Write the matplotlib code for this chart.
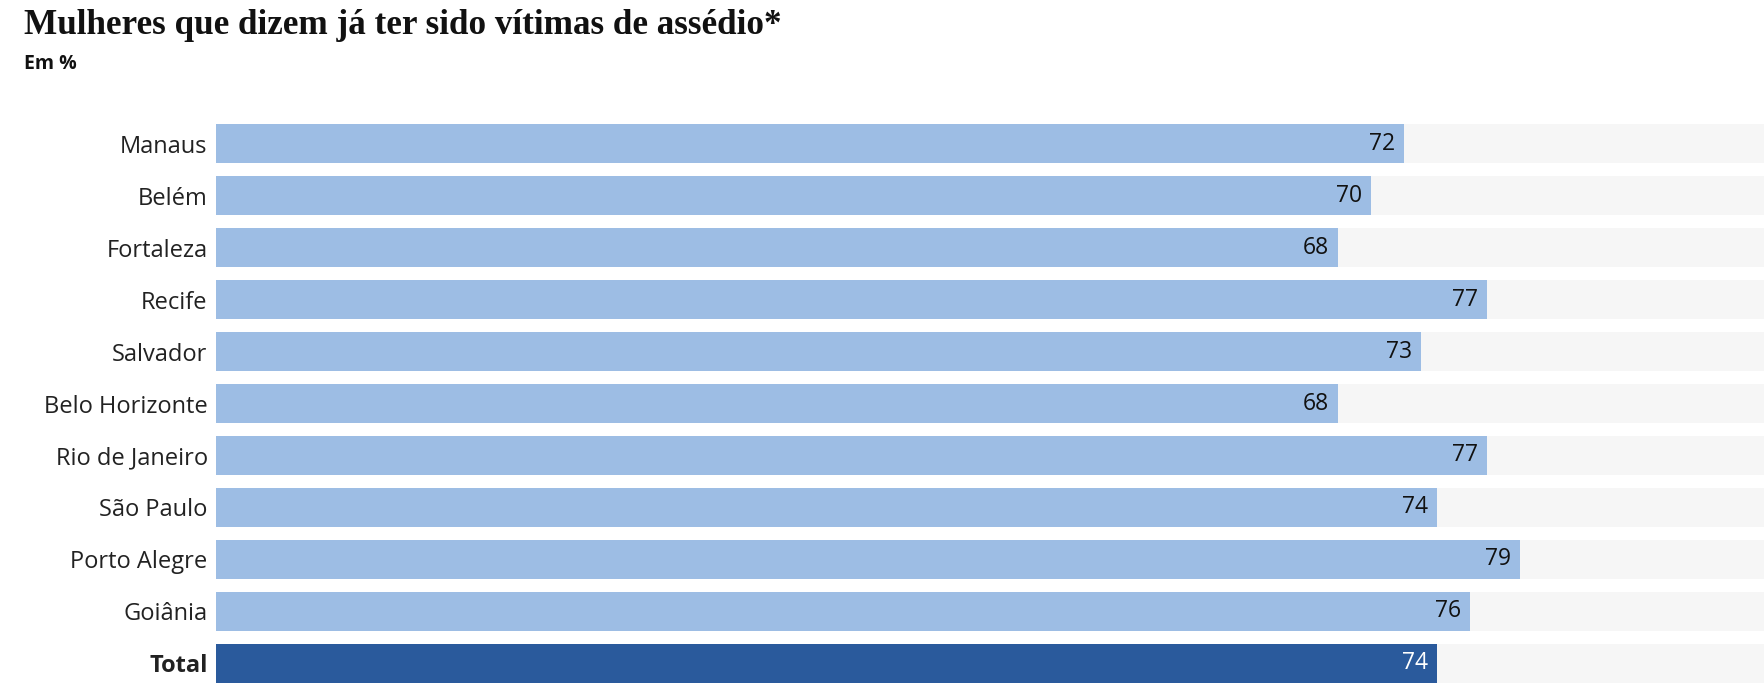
import matplotlib.pyplot as plt

cities = ["Manaus", "Belém", "Fortaleza", "Recife", "Salvador", "Belo Horizonte",
          "Rio de Janeiro", "São Paulo", "Porto Alegre", "Goiânia", "Total"]
values = [72, 70, 68, 77, 73, 68, 77, 74, 79, 76, 74]

LIGHT = "#9dbde4"
DARK = "#2a5a9c"
GREY = "#f6f6f6"


def main():
    plt.rcParams["font.family"] = ["Open Sans", "DejaVu Sans"]
    fig = plt.figure(figsize=(17.64, 6.92), dpi=100)
    ax = fig.add_axes([216 / 1764, 9 / 692, 1 - 216 / 1764, (683 - 124) / 692])

    y = list(range(len(cities)))
    colors = [LIGHT] * (len(cities) - 1) + [DARK]
    ax.barh(y, [100] * len(cities), height=0.76, color=GREY, zorder=1)
    ax.barh(y, values, height=0.76, color=colors, zorder=2)

    for i, v in enumerate(values):
        last = i == len(values) - 1
        ax.text(v - 0.55, i, str(v), ha="right", va="center", fontsize=16.5,
                color="white" if last else "#111111", zorder=3)

    ax.set_xlim(0, 93.8)
    ax.set_ylim(len(cities) - 0.62, -0.38)
    ax.set_yticks(y)
    ax.set_yticklabels(cities, fontsize=17, color="#222222")
    ax.get_yticklabels()[-1].set_fontweight("bold")
    ax.tick_params(axis="y", length=0, pad=6)
    ax.set_xticks([])
    for s in ax.spines.values():
        s.set_visible(False)

    fig.text(24 / 1764, 1 - 25 / 692, "Mulheres que dizem já ter sido vítimas de assédio*",
             family="Liberation Serif", fontweight="bold", fontsize=25.3, va="center", color="#111111")
    fig.text(24 / 1764, 1 - 64 / 692, "Em %", fontsize=14, fontweight="bold",
             va="center", color="#111111")

    fig.savefig("out.png", dpi=100)


if __name__ == "__main__":
    main()
